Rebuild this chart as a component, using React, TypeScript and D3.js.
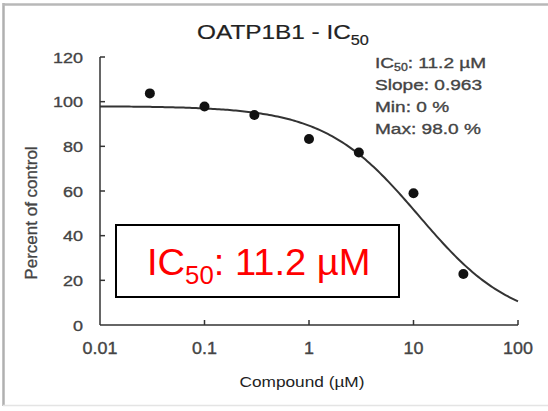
import React from "react";
import * as d3 from "d3";

// measured doses (µM) and response (% of control)
const concentrations = [0.03, 0.1, 0.3, 1, 3, 10, 30];
const percentControl = [103.7, 97.8, 94.0, 83.3, 77.2, 59.0, 22.8];

// fitted 4-parameter logistic, as printed on the chart
const fitIC50 = 11.2;
const fitSlope = 0.963;
const fitMin = 0;
const fitMax = 98.0;

const xTicks = [0.01, 0.1, 1, 10, 100];
const xTickLabels = ["0.01", "0.1", "1", "10", "100"];
const yTicks = [0, 20, 40, 60, 80, 100, 120];

const W = 548;
const H = 411;
const axisColor = "#333";
const labelColor = "#444";
const font = "'Liberation Sans', Arial, sans-serif";

// text with horizontal stretch (the source picture is a bit wide)
const SText = ({ x, y, sx = 1, anchor = "start", size, fill = labelColor, children, weight = 0.35 }: any) => (
  <text
    transform={`translate(${x},${y}) scale(${sx},1)`}
    textAnchor={anchor}
    fontSize={size}
    fontFamily={font}
    fill={fill}
    stroke={weight > 0 ? fill : "none"}
    strokeWidth={weight}
  >
    {children}
  </text>
);

export default function App() {
  const x = d3.scaleLog().domain([0.01, 100]).range([100, 518]);
  const y = d3.scaleLinear().domain([0, 120]).range([325, 57]);

  const fit = (c: number) => fitMin + (fitMax - fitMin) / (1 + Math.pow(c / fitIC50, fitSlope));
  const curveX = d3.range(-2, 2.0001, 0.02).map((e) => Math.pow(10, e));
  const line = d3
    .line<number>()
    .x((c) => x(c))
    .y((c) => y(fit(c)));

  const points = concentrations.map((c, i) => ({ c, v: percentControl[i] }));

  return (
    <svg
      width={W}
      height={H}
      style={{ position: "fixed", left: 0, top: 0, background: "#fff", display: "block" }}
    >
      {/* outer frame of the slide */}
      <line x1={3.5} x2={3.5} y1={3} y2={406} stroke="#b0b0b0" strokeWidth={2.5} />
      <line x1={3} x2={W} y1={4.5} y2={4.5} stroke="#b8b8b8" strokeWidth={2.5} />
      <line x1={3} x2={W} y1={405.5} y2={405.5} stroke="#e4e4e4" strokeWidth={1.5} />

      {/* title */}
      <SText x={197} y={39} sx={1.16} size={21} fill="#222" weight={0.2}>
        OATP1B1 - IC
        <tspan fontSize={14} dy={6}>50</tspan>
      </SText>

      {/* axes */}
      <g stroke={axisColor} strokeWidth={1.5} fill="none">
        <line x1={x(0.01)} x2={x(0.01)} y1={y(120)} y2={y(0)} />
        <line x1={x(0.01)} x2={x(100)} y1={y(0)} y2={y(0)} />
        {yTicks.filter((t) => t > 0).map((t) => (
          <line key={t} x1={x(0.01)} x2={x(0.01) + 5} y1={y(t)} y2={y(t)} />
        ))}
        {xTicks.filter((t) => t > 0.01).map((t) => (
          <line key={t} x1={x(t)} x2={x(t)} y1={y(0)} y2={y(0) - 5} />
        ))}
      </g>

      {yTicks.map((t) => (
        <SText key={t} x={83} y={y(t) + 5.5} sx={1.16} anchor="end" size={15.5}>
          {t}
        </SText>
      ))}
      {xTicks.map((t, i) => (
        <SText key={t} x={x(t)} y={354} sx={1.12} anchor="middle" size={16}>
          {xTickLabels[i]}
        </SText>
      ))}

      {/* axis titles */}
      <text
        transform={`translate(37,213) rotate(-90)`}
        textAnchor="middle"
        fontSize={17}
        fontFamily={font}
        fill={labelColor}
        stroke={labelColor}
        strokeWidth={0.3}
      >
        Percent of control
      </text>
      <text x={302} y={387} textAnchor="middle" fontSize={15} fontFamily={font} fill="#222" textLength={125} lengthAdjust="spacingAndGlyphs">
        Compound (µM)
      </text>

      {/* fitted curve */}
      <path d={line(curveX) || ""} fill="none" stroke="#333" strokeWidth={2} />

      {/* data points */}
      {points.map((p) => (
        <circle key={p.c} cx={x(p.c)} cy={y(p.v)} r={5} fill="#111" />
      ))}

      {/* fit parameters */}
      <SText x={375} y={68} sx={1.23} size={15.5}>
        IC<tspan fontSize={10} dy={3}>50</tspan>
        <tspan dy={-3}>: {fitIC50.toFixed(1)} µM</tspan>
      </SText>
      <SText x={375} y={90} sx={1.23} size={15.5}>
        Slope: {fitSlope.toFixed(3)}
      </SText>
      <SText x={375} y={112} sx={1.23} size={15.5}>
        Min: {fitMin} %
      </SText>
      <SText x={375} y={134} sx={1.23} size={15.5}>
        Max: {fitMax.toFixed(1)} %
      </SText>

      {/* highlighted IC50 box */}
      <rect x={116} y={225} width={283} height={72} fill="#fff" stroke="#000" strokeWidth={2} />
      <SText x={147} y={275} sx={1.03} size={37} fill="#ff0000" weight={0}>
        IC<tspan fontSize={25} dy={9}>50</tspan>
        <tspan dy={-9}>: {fitIC50.toFixed(1)} µM</tspan>
      </SText>
    </svg>
  );
}
